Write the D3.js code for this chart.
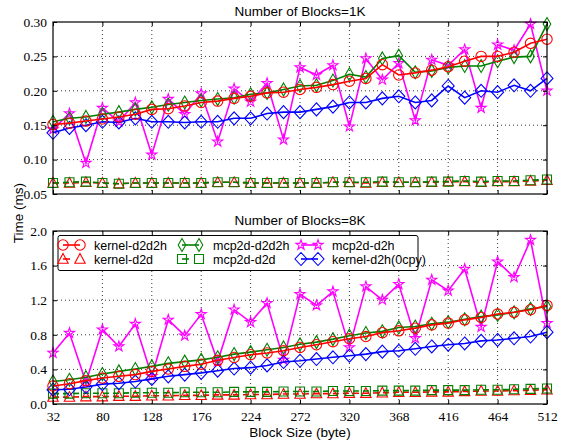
<!DOCTYPE html>
<html><head><meta charset="utf-8">
<script src="https://cdn.jsdelivr.net/npm/d3@7/dist/d3.min.js"></script>
<style>body{margin:0;background:#fff}svg{display:block}</style></head>
<body><svg id="chart" width="564" height="441"></svg>
<script>
const blockSizes = [32,48,64,80,96,112,128,144,160,176,192,208,224,240,256,272,288,304,320,336,352,368,384,400,416,432,448,464,480,496,512];
const xTicks = [32,80,128,176,224,272,320,368,416,464,512];
const seriesNames = ["kernel-d2d2h","kernel-d2d","mcp2d-d2d2h","mcp2d-d2d","mcp2d-d2h","kernel-d2h(0cpy)"];

// Number of Blocks = 1K
const top_kernel_d2d2h = [0.151,0.153,0.156,0.159,0.162,0.166,0.173,0.174,0.178,0.183,0.185,0.189,0.192,0.197,0.198,0.202,0.205,0.209,0.214,0.218,0.238,0.223,0.226,0.230,0.235,0.243,0.250,0.250,0.256,0.269,0.275];
const top_kernel_d2d   = [0.066,0.066,0.067,0.066,0.065,0.066,0.066,0.066,0.066,0.066,0.067,0.067,0.066,0.066,0.066,0.066,0.066,0.067,0.067,0.066,0.067,0.067,0.067,0.067,0.068,0.068,0.067,0.068,0.068,0.069,0.070];
const top_mcp2d_d2d2h  = [0.155,0.160,0.162,0.166,0.169,0.173,0.176,0.180,0.183,0.186,0.188,0.190,0.195,0.197,0.202,0.207,0.208,0.215,0.224,0.220,0.247,0.251,0.227,0.229,0.234,0.236,0.236,0.243,0.249,0.250,0.297];
const top_mcp2d_d2d    = [0.066,0.067,0.068,0.066,0.065,0.066,0.066,0.066,0.066,0.066,0.067,0.067,0.066,0.066,0.066,0.066,0.066,0.067,0.067,0.067,0.068,0.067,0.067,0.068,0.068,0.069,0.068,0.069,0.069,0.070,0.071];
const top_mcp2d_d2h    = [0.144,0.167,0.095,0.175,0.155,0.183,0.107,0.188,0.166,0.196,0.126,0.203,0.184,0.211,0.129,0.234,0.223,0.237,0.148,0.247,0.216,0.240,0.157,0.245,0.237,0.260,0.175,0.267,0.259,0.297,0.200];
const top_kernel_d2h0  = [0.139,0.146,0.150,0.155,0.154,0.160,0.155,0.155,0.154,0.155,0.155,0.160,0.160,0.167,0.169,0.169,0.173,0.177,0.183,0.183,0.189,0.192,0.183,0.186,0.207,0.190,0.200,0.198,0.208,0.200,0.218];
const topYTicks = [0.05,0.10,0.15,0.20,0.25,0.30];

// Number of Blocks = 8K
const bot_kernel_d2d2h = [0.208,0.235,0.27,0.30,0.32,0.34,0.377,0.404,0.435,0.46,0.505,0.538,0.57,0.59,0.615,0.654,0.685,0.72,0.754,0.78,0.825,0.846,0.877,0.915,0.935,0.973,1.00,1.04,1.06,1.09,1.14];
const bot_kernel_d2d   = [0.08,0.08,0.085,0.085,0.09,0.09,0.095,0.095,0.10,0.10,0.105,0.105,0.11,0.11,0.115,0.115,0.12,0.12,0.125,0.125,0.13,0.135,0.135,0.14,0.14,0.145,0.15,0.15,0.155,0.16,0.165];
const bot_mcp2d_d2d2h  = [0.26,0.28,0.31,0.346,0.377,0.404,0.435,0.47,0.49,0.51,0.54,0.577,0.60,0.627,0.654,0.69,0.715,0.75,0.79,0.82,0.84,0.885,0.896,0.927,0.946,0.98,1.01,1.03,1.06,1.10,1.127];
const bot_mcp2d_d2d    = [0.12,0.12,0.125,0.125,0.125,0.13,0.13,0.13,0.135,0.135,0.135,0.14,0.14,0.14,0.145,0.145,0.145,0.15,0.15,0.15,0.155,0.155,0.155,0.16,0.16,0.16,0.165,0.165,0.17,0.175,0.18];
const bot_mcp2d_d2h    = [0.59,0.82,0.25,0.86,0.665,0.925,0.32,0.973,0.79,1.037,0.49,1.09,0.946,1.166,0.51,1.27,1.14,1.30,0.654,1.358,1.204,1.385,0.76,1.435,1.31,1.56,0.89,1.646,1.465,1.896,0.935];
const bot_kernel_d2h0  = [0.165,0.17,0.196,0.23,0.24,0.26,0.29,0.32,0.34,0.36,0.385,0.41,0.42,0.446,0.485,0.50,0.52,0.54,0.558,0.577,0.605,0.615,0.638,0.665,0.685,0.70,0.73,0.74,0.76,0.78,0.83];
const botYTicks = [0.0,0.4,0.8,1.2,1.6,2.0];

const styles = {
  "kernel-d2d2h":     {color:"#ff0000", marker:"circle",   dash:null},
  "kernel-d2d":       {color:"#ff0000", marker:"triangle", dash:"6,4"},
  "mcp2d-d2d2h":      {color:"#008000", marker:"thindiamond", dash:null},
  "mcp2d-d2d":        {color:"#008000", marker:"square",   dash:"6,4"},
  "mcp2d-d2h":        {color:"#ff00ff", marker:"star",     dash:null},
  "kernel-d2h(0cpy)": {color:"#0000ff", marker:"diamond",  dash:null}
};

const svg = d3.select("#chart");
const X0 = 53, X1 = 547;
const x = d3.scaleLinear().domain([32,512]).range([X0, X1]);

function markerPath(type){
  switch(type){
    case "circle": return d3.symbol(d3.symbolCircle, 85)();
    case "triangle": return "M0,-5.5L5.2,4.2L-5.2,4.2Z";
    case "square": return "M-4.5,-4.5H4.5V4.5H-4.5Z";
    case "diamond": return "M0,-6.5L6,0L0,6.5L-6,0Z";
    case "thindiamond": return "M0,-6.5L3.8,0L0,6.5L-3.8,0Z";
    case "star": return d3.symbol(d3.symbolStar, 32)();
  }
}

function drawPanel(cfg){
  const y = d3.scaleLinear().domain(cfg.yDomain).range([cfg.yBottom, cfg.yTop]);
  const g = svg.append("g");
  g.append("g").selectAll("line").data(xTicks.slice(1,-1)).join("line")
    .attr("x1", d=>x(d)).attr("x2", d=>x(d)).attr("y1", cfg.yTop).attr("y2", cfg.yBottom)
    .attr("stroke","#000").attr("stroke-width",0.8).attr("stroke-dasharray","1,3");
  g.append("g").selectAll("line").data(cfg.yTicks.slice(1,-1)).join("line")
    .attr("y1", d=>y(d)).attr("y2", d=>y(d)).attr("x1", X0).attr("x2", X1)
    .attr("stroke","#000").attr("stroke-width",0.8).attr("stroke-dasharray","1,3");

  const plot = g.append("g");
  const line = d3.line().x((d,i)=>x(blockSizes[i])).y(d=>y(d));
  const order = ["kernel-d2d","mcp2d-d2d","mcp2d-d2h","kernel-d2h(0cpy)","mcp2d-d2d2h","kernel-d2d2h"];
  order.forEach(name=>{
    const st = styles[name], vals = cfg.data[name];
    const sg = plot.append("g");
    sg.append("path").attr("d", line(vals)).attr("fill","none").attr("stroke", st.color)
      .attr("stroke-width",1.6).attr("stroke-dasharray", st.dash);
    sg.selectAll("path.m").data(vals).join("path").attr("class","m")
      .attr("d", markerPath(st.marker))
      .attr("transform",(d,i)=>`translate(${x(blockSizes[i])},${y(d)})`)
      .attr("fill", "none").attr("stroke", st.color).attr("stroke-width",1.1);
  });

  g.append("rect").attr("x",X0).attr("y",cfg.yTop).attr("width",X1-X0).attr("height",cfg.yBottom-cfg.yTop)
    .attr("fill","none").attr("stroke","#000").attr("stroke-width",1.2);
  const axB = d3.axisBottom(x).tickValues(xTicks).tickSizeInner(-4).tickSizeOuter(0).tickPadding(7)
    .tickFormat(cfg.showX ? d3.format("d") : "");
  const gb = g.append("g").attr("transform",`translate(0,${cfg.yBottom})`).call(axB);
  const axT = d3.axisTop(x).tickValues(xTicks).tickSizeInner(-4).tickSizeOuter(0).tickFormat("");
  const gt = g.append("g").attr("transform",`translate(0,${cfg.yTop})`).call(axT);
  const axL = d3.axisLeft(y).tickValues(cfg.yTicks).tickSizeInner(-4).tickSizeOuter(0).tickPadding(6)
    .tickFormat(d3.format(cfg.fmt));
  const gl = g.append("g").attr("transform",`translate(${X0},0)`).call(axL);
  const axR = d3.axisRight(y).tickValues(cfg.yTicks).tickSizeInner(-4).tickSizeOuter(0).tickFormat("");
  const gr = g.append("g").attr("transform",`translate(${X1},0)`).call(axR);
  [gb,gt,gl,gr].forEach(a=>{
    a.select(".domain").remove();
    a.selectAll("line").attr("stroke","#000");
    a.selectAll("text").attr("font-family","'Liberation Serif', serif").attr("font-size",13.5).attr("fill","#000");
  });
  svg.append("text").attr("x", 300).attr("y", cfg.yTop-6).attr("text-anchor","middle")
    .attr("font-family","'Liberation Sans', Arial, sans-serif").attr("font-size",13.5).text(cfg.title);
  return y;
}

drawPanel({id:"t", yTop:22, yBottom:194, yDomain:[0.05,0.30], yTicks:topYTicks, fmt:".2f", showX:false,
  title:"Number of Blocks=1K",
  data:{"kernel-d2d2h":top_kernel_d2d2h,"kernel-d2d":top_kernel_d2d,"mcp2d-d2d2h":top_mcp2d_d2d2h,
        "mcp2d-d2d":top_mcp2d_d2d,"mcp2d-d2h":top_mcp2d_d2h,"kernel-d2h(0cpy)":top_kernel_d2h0}});
drawPanel({id:"b", yTop:231, yBottom:404, yDomain:[0,2.0], yTicks:botYTicks, fmt:".1f", showX:true,
  title:"Number of Blocks=8K",
  data:{"kernel-d2d2h":bot_kernel_d2d2h,"kernel-d2d":bot_kernel_d2d,"mcp2d-d2d2h":bot_mcp2d_d2d2h,
        "mcp2d-d2d":bot_mcp2d_d2d,"mcp2d-d2h":bot_mcp2d_d2h,"kernel-d2h(0cpy)":bot_kernel_d2h0}});

svg.append("text").attr("x", 300).attr("y", 437).attr("text-anchor","middle")
  .attr("font-family","'Liberation Sans', Arial, sans-serif").attr("font-size",13.5).text("Block Size (byte)");
svg.append("text").attr("transform","translate(23,213) rotate(-90)").attr("text-anchor","middle")
  .attr("font-family","'Liberation Sans', Arial, sans-serif").attr("font-size",13.5).text("Time (ms)");

const lg = svg.append("g");
lg.append("rect").attr("x",58).attr("y",235.5).attr("width",360).attr("height",35).attr("rx",2)
  .attr("fill","#fff").attr("stroke","#000").attr("stroke-width",1);
const legendPos = [
  {name:"kernel-d2d2h", x0:63, y:245},
  {name:"kernel-d2d", x0:63, y:259},
  {name:"mcp2d-d2d2h", x0:182, y:245},
  {name:"mcp2d-d2d", x0:182, y:259},
  {name:"mcp2d-d2h", x0:301, y:245},
  {name:"kernel-d2h(0cpy)", x0:301, y:259}
];
legendPos.forEach(p=>{
  const st = styles[p.name];
  const g = lg.append("g");
  const x1 = p.x0, x2 = p.x0 + 17;
  g.append("line").attr("x1",x1).attr("x2",st.dash ? x1+7 : x2).attr("y1",p.y).attr("y2",p.y)
    .attr("stroke",st.color).attr("stroke-width",1.6);
  [x1,x2].forEach(xx=>g.append("path").attr("d",markerPath(st.marker)).attr("transform",`translate(${xx},${p.y})`)
    .attr("fill","none").attr("stroke",st.color).attr("stroke-width",1.1));
  g.append("text").attr("x",p.x0+31).attr("y",p.y+4.5).attr("font-family","'Liberation Sans', Arial, sans-serif")
    .attr("font-size",12.5).text(p.name);
});
</script></body></html>
